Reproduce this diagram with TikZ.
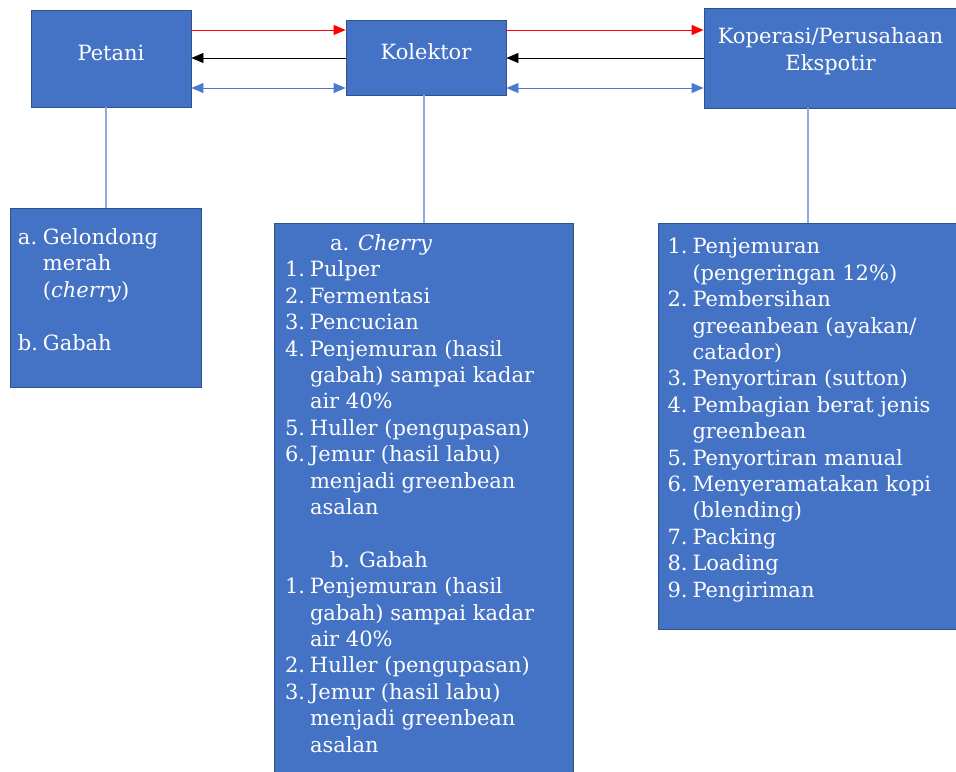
\documentclass[tikz,border=0pt]{standalone}
\usepackage{fontspec}
\setmainfont{DejaVu Serif}
\usetikzlibrary{
	arrows.meta,
	positioning,
}
\definecolor{boxblue}{HTML}{4472C4}
\definecolor{boxline}{HTML}{2F528F}
\definecolor{linkblue}{HTML}{8FAADC}
\definecolor{arrowblue}{HTML}{4A7BD0}
\tikzset{head node/.style={draw=boxline,fill=boxblue,text=white,align=center,inner sep=0mm,text depth=6pt,font=\fontsize{10.5}{13.5}\selectfont,}}
\tikzset{list box/.style={draw=boxline,fill=boxblue,inner sep=0mm,}}
\tikzset{list text/.style={text=white,anchor=north west,inner sep=0mm,font=\fontsize{10.5}{13.2}\selectfont,}}
\tikzset{link/.style={linkblue,line width=1pt}}
\tikzset{sell/.style={red,->}}
\tikzset{pay/.style={black,->}}
\tikzset{info/.style={arrowblue,<->}}
\tikzset{
	>={Triangle[length=6pt,width=5pt]},
	thick,
}

\begin{document}
\begin{tikzpicture}[x=0.5pt,y=-0.5pt]
\useasboundingbox (0,0) rectangle (956,771);

\node[head node,minimum width=80pt,minimum height=48.5pt] (petani) at (111,58.5) {Petani};
\node[head node,minimum width=80pt,minimum height=37.5pt] (kolektor) at (426,57.5) {Kolektor};
\node[head node,text depth=8.5pt,minimum width=126.5pt,minimum height=50pt] (koperasi) at (830.5,58) {Koperasi/Perusahaan\\Ekspotir};

\node[list box,minimum width=95.5pt,minimum height=89.5pt] (petaniList) at (105.5,297.5) {};
\node[list box,minimum width=149.5pt,minimum height=276pt] (kolektorList) at (423.5,499) {};
\node[list box,minimum width=149.5pt,minimum height=203pt] (koperasiList) at (808,426) {};

\node[list text] (petaniItems) at ([shift={(8,18)}]petaniList.north west) {%
\begin{tabular}{@{}p{12.5pt}@{}l@{}}
a. & Gelondong\\
 & merah\\
 & (\textit{cherry})\\
 & \\
b. & Gabah\\
\end{tabular}};

\node[list text] (kolektorItems) at ([shift={(11,9)}]kolektorList.north west) {%
\begin{tabular}{@{}p{12.5pt}@{}l@{}}
\multicolumn{2}{@{\hspace{22.5pt}}l@{}}{a. \textit{Cherry}}\\
1. & Pulper\\
2. & Fermentasi\\
3. & Pencucian\\
4. & Penjemuran (hasil\\
 & gabah) sampai kadar\\
 & air 40\%\\
5. & Huller (pengupasan)\\
6. & Jemur (hasil labu)\\
 & menjadi greenbean\\
 & asalan\\
 & \\
\multicolumn{2}{@{\hspace{22.5pt}}l@{}}{b. Gabah}\\
1. & Penjemuran (hasil\\
 & gabah) sampai kadar\\
 & air 40\%\\
2. & Huller (pengupasan)\\
3. & Jemur (hasil labu)\\
 & menjadi greenbean\\
 & asalan\\
\end{tabular}};

\node[list text] (koperasiItems) at ([shift={(9,12.5)}]koperasiList.north west) {%
\begin{tabular}{@{}p{12.5pt}@{}l@{}}
1. & Penjemuran\\
 & (pengeringan 12\%)\\
2. & Pembersihan\\
 & greeanbean (ayakan/\\
 & catador)\\
3. & Penyortiran (sutton)\\
4. & Pembagian berat jenis\\
 & greenbean\\
5. & Penyortiran manual\\
6. & Menyeramatakan kopi\\
 & (blending)\\
7. & Packing\\
8. & Loading\\
9. & Pengiriman\\
\end{tabular}};

\draw[link] (petani.south -| petaniList.north) -- (petaniList.north);
\draw[link] (kolektor.south -| kolektorList.north) -- (kolektorList.north);
\draw[link] (koperasi.south -| koperasiList.north) -- (koperasiList.north);

\coordinate (rowA) at (0,30);
\coordinate (rowB) at (0,58);
\coordinate (rowC) at (0,88);

\draw[sell] (petani.east |- rowA) -- (kolektor.west |- rowA);
\draw[pay] (kolektor.west |- rowB) -- (petani.east |- rowB);
\draw[info] (petani.east |- rowC) -- (kolektor.west |- rowC);

\draw[sell] (kolektor.east |- rowA) -- (koperasi.west |- rowA);
\draw[pay] (koperasi.west |- rowB) -- (kolektor.east |- rowB);
\draw[info] (kolektor.east |- rowC) -- (koperasi.west |- rowC);
\end{tikzpicture}
\end{document}
